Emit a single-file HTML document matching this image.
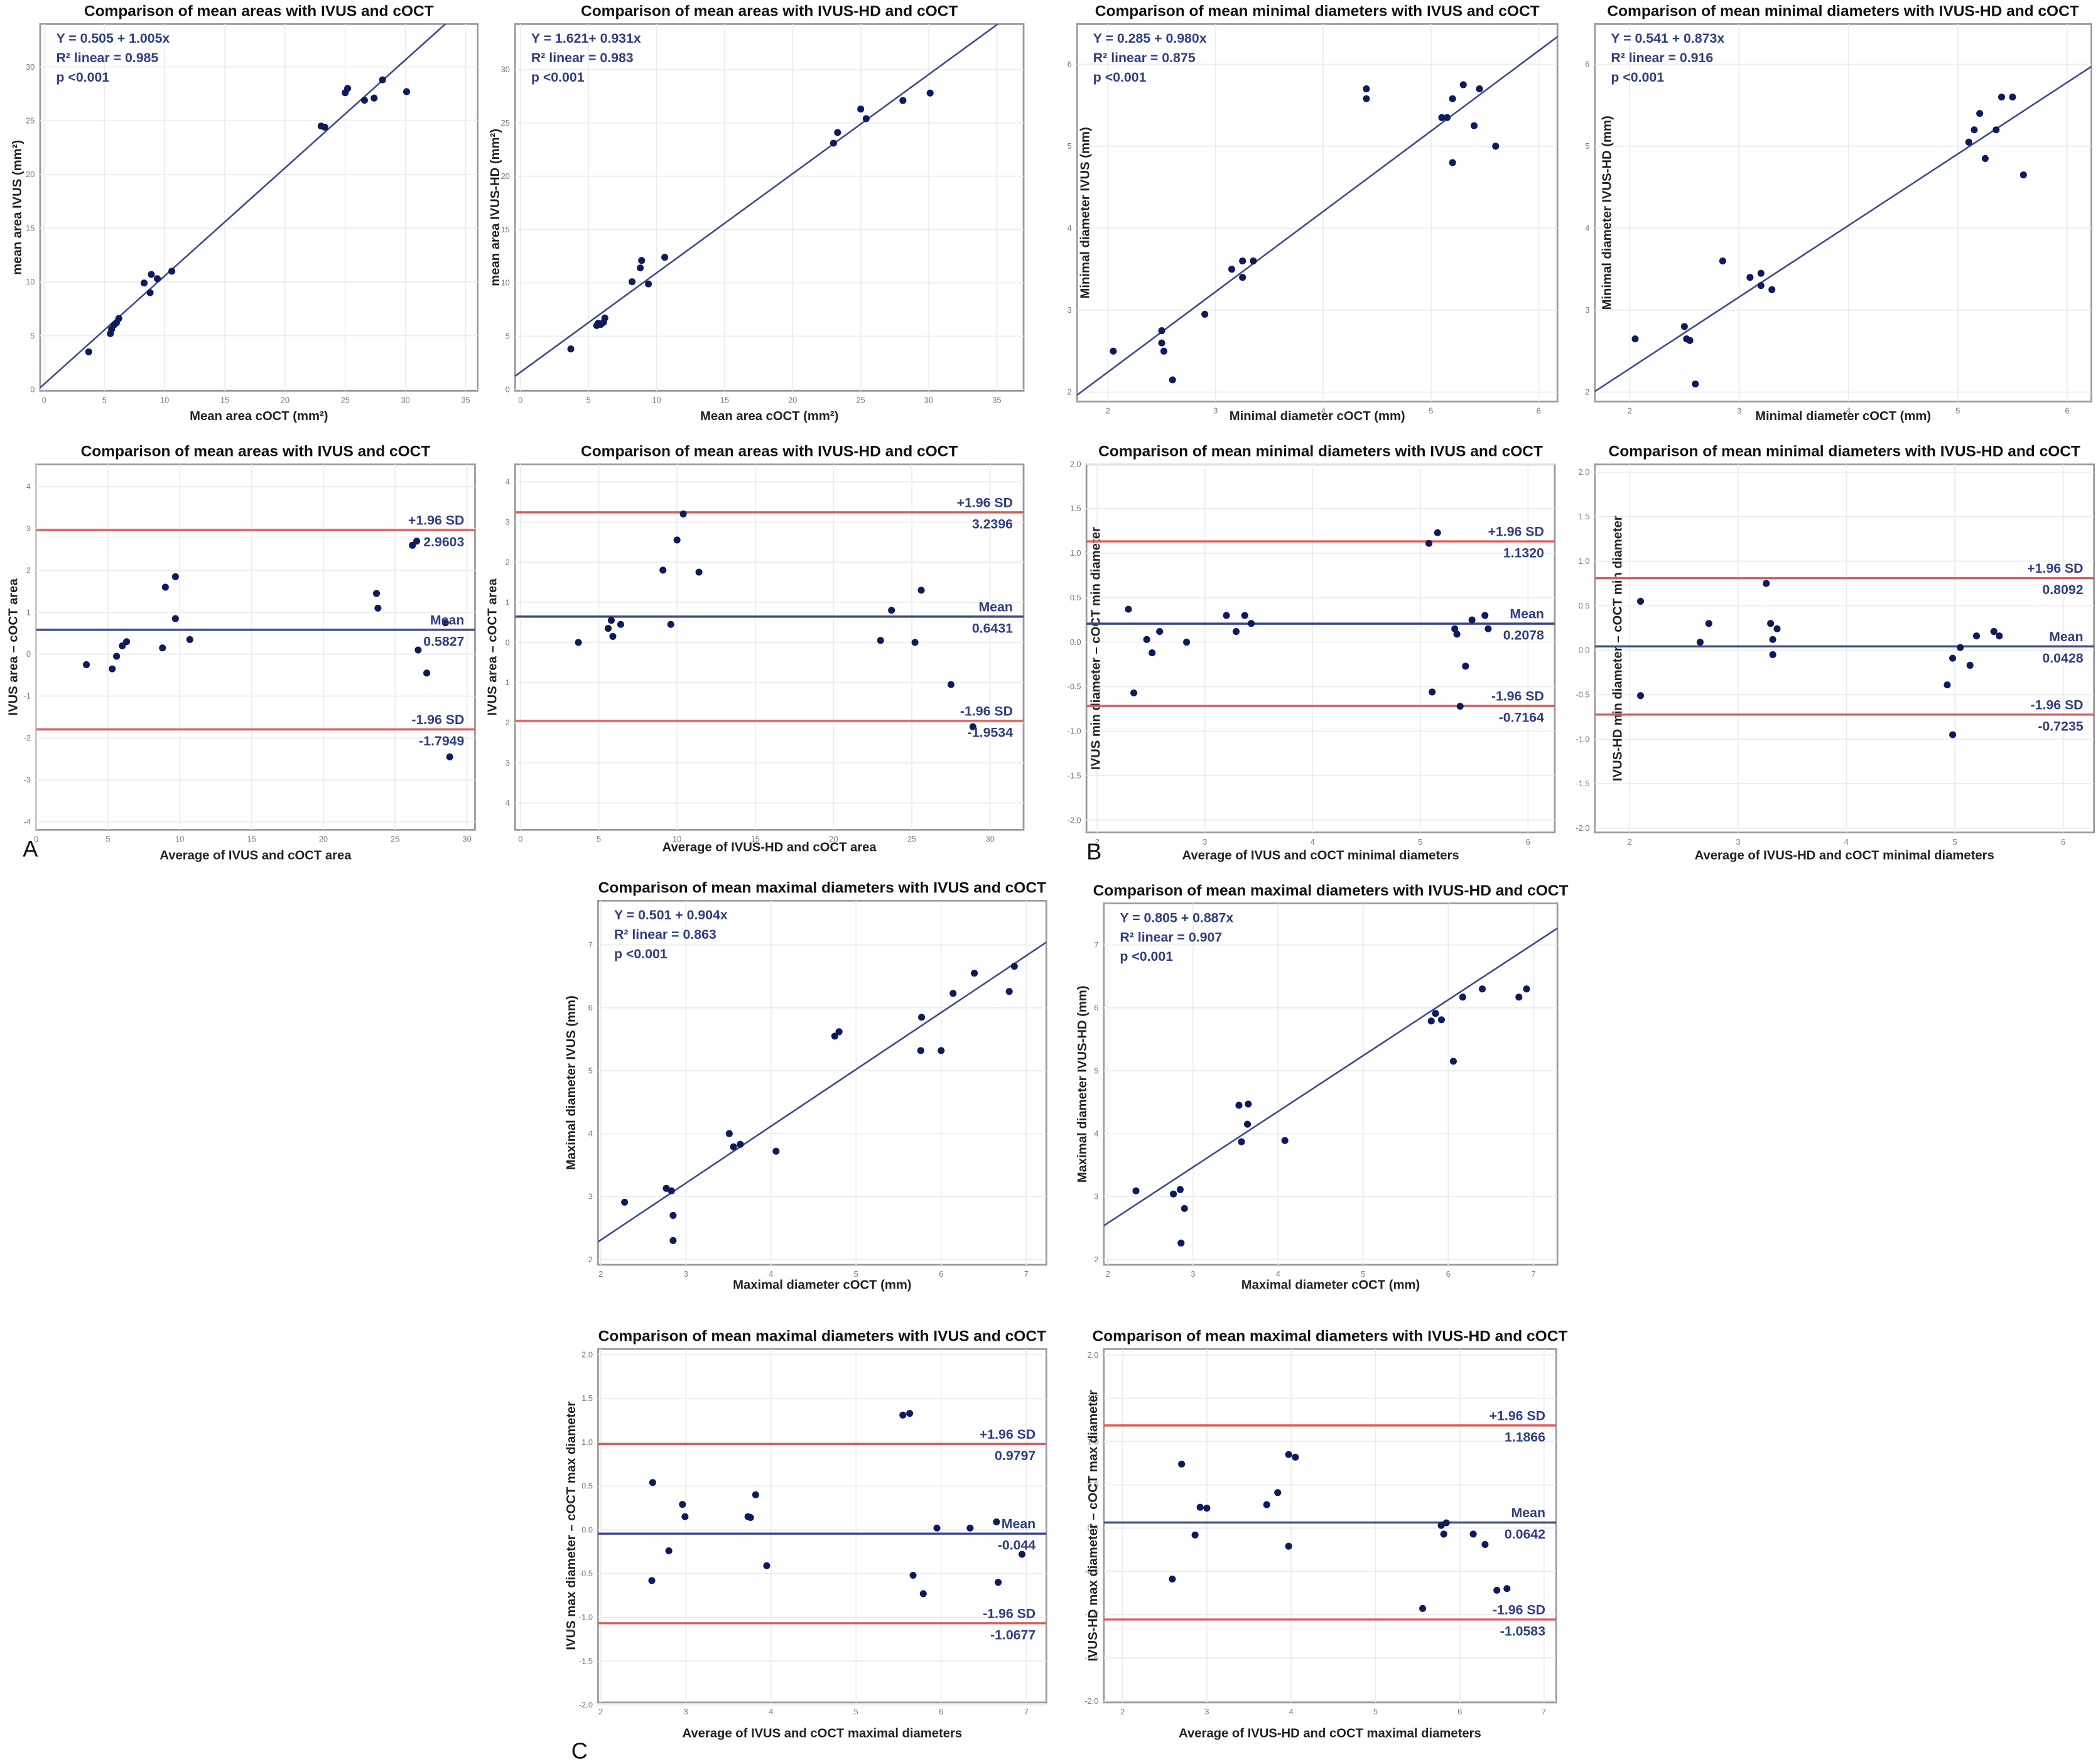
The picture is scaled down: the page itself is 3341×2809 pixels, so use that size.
<!DOCTYPE html>
<html><head><meta charset="utf-8"><style>
html,body{margin:0;padding:0;background:#fff;}
svg{display:block;font-family:"Liberation Sans",sans-serif;}
</style></head><body>
<svg id="fig" width="3341" height="2809" viewBox="0 0 1568 1318" preserveAspectRatio="none" xmlns="http://www.w3.org/2000/svg"></svg>
<script>
// ---- data ----
const p1x=[3.7,5.5,5.6,5.8,6.0,6.2,8.3,8.8,8.9,9.4,10.6,23.0,23.3,25.0,25.2,26.6,27.4,28.1,30.1];
const p1y=[3.5,5.2,5.6,6.0,6.2,6.6,9.9,9.0,10.7,10.3,11.0,24.5,24.4,27.6,28.0,26.9,27.1,28.8,27.7];
const p2x=[3.7,5.6,5.7,5.9,6.1,6.2,8.2,8.8,8.9,9.4,10.6,23.0,23.3,25.0,25.4,28.1,30.1];
const p2y=[3.8,6.0,6.2,6.1,6.3,6.7,10.1,11.4,12.1,9.9,12.4,23.1,24.1,26.3,25.4,27.1,27.8];
const p3x=[2.05,2.5,2.5,2.52,2.6,2.9,3.15,3.25,3.25,3.35,4.4,4.4,5.1,5.15,5.2,5.2,5.3,5.4,5.45,5.6];
const p3y=[2.5,2.75,2.6,2.5,2.15,2.95,3.5,3.6,3.4,3.6,5.7,5.58,5.35,5.35,5.58,4.8,5.75,5.25,5.7,5.0];
const p4x=[2.05,2.5,2.52,2.55,2.6,2.85,3.1,3.2,3.2,3.3,5.1,5.15,5.2,5.25,5.35,5.4,5.5,5.6];
const p4y=[2.65,2.8,2.65,2.63,2.1,3.6,3.4,3.45,3.3,3.25,5.05,5.2,5.4,4.85,5.2,5.6,5.6,4.65];
const p5x=[3.5,5.3,5.6,6.0,6.3,8.8,9.0,9.7,9.7,10.7,23.7,23.8,26.2,26.5,26.6,27.2,28.5,28.8];
const p5y=[-0.25,-0.35,-0.05,0.2,0.3,0.15,1.6,1.85,0.85,0.35,1.45,1.1,2.6,2.7,0.1,-0.45,0.75,-2.45];
const p6x=[3.7,5.6,5.8,5.9,6.4,9.1,9.6,10.0,10.4,11.4,23.0,23.7,25.2,25.6,27.5,28.9];
const p6y=[0.0,0.35,0.55,0.15,0.45,1.8,0.45,2.55,3.2,1.75,0.05,0.8,0.0,1.3,-1.05,-2.1];
const p7x=[2.29,2.34,2.46,2.51,2.58,2.83,3.2,3.29,3.37,3.43,5.08,5.16,5.11,5.32,5.34,5.37,5.42,5.48,5.6,5.63];
const p7y=[0.37,-0.57,0.03,-0.12,0.12,0.0,0.3,0.12,0.3,0.21,1.11,1.23,-0.56,0.15,0.09,-0.72,-0.27,0.25,0.3,0.15];
const p8x=[2.1,2.1,2.65,2.73,3.26,3.3,3.32,3.32,3.36,4.93,4.98,5.05,5.14,5.2,5.36,5.41,4.98];
const p8y=[0.55,-0.51,0.09,0.3,0.75,0.3,0.12,-0.05,0.24,-0.39,-0.09,0.03,-0.17,0.16,0.21,0.16,-0.95];
const p9x=[2.28,2.77,2.83,2.85,2.85,3.51,3.56,3.64,4.06,4.75,4.8,5.77,5.76,6.0,6.14,6.39,6.8,6.86];
const p9y=[2.91,3.13,3.09,2.7,2.3,4.0,3.79,3.83,3.72,5.55,5.62,5.85,5.32,5.32,6.23,6.55,6.26,6.66];
const p10x=[2.33,2.77,2.85,2.9,2.86,3.54,3.57,3.64,3.65,4.08,5.8,5.85,5.92,6.06,6.17,6.4,6.83,6.92];
const p10y=[3.09,3.04,3.11,2.81,2.26,4.45,3.87,4.15,4.47,3.89,5.79,5.91,5.81,5.15,6.17,6.3,6.17,6.3];
const p11x=[2.61,2.6,2.8,2.96,2.99,3.73,3.76,3.82,3.95,5.55,5.63,5.67,5.79,5.95,6.34,6.65,6.67,6.95];
const p11y=[0.54,-0.58,-0.24,0.29,0.15,0.15,0.14,0.4,-0.41,1.31,1.33,-0.52,-0.73,0.02,0.02,0.09,-0.6,-0.28];
const p12x=[2.59,2.7,2.86,2.92,3.0,3.71,3.84,3.97,3.97,4.05,5.56,5.78,5.81,5.84,6.16,6.3,6.44,6.56];
const p12y=[-0.59,0.74,-0.08,0.24,0.23,0.27,0.41,0.85,-0.21,0.82,-0.93,0.03,-0.07,0.06,-0.07,-0.19,-0.72,-0.7];
const fit1=[0.505,1.005], fit2=[1.621,0.931], fit3=[0.285,0.980], fit4=[0.541,0.873], fit9=[0.501,0.904], fit10=[0.805,0.887];
const ba5=[2.9603,0.5827,-1.7949], ba6=[3.2396,0.6431,-1.9534], ba7=[1.1320,0.2078,-0.7164], ba8=[0.8092,0.0428,-0.7235], ba11=[0.9797,-0.044,-1.0677], ba12=[1.1866,0.0642,-1.0583];
const baLab5=["2.9603","0.5827","-1.7949"], baLab6=["3.2396","0.6431","-1.9534"], baLab7=["1.1320","0.2078","-0.7164"], baLab8=["0.8092","0.0428","-0.7235"], baLab11=["0.9797","-0.044","-1.0677"], baLab12=["1.1866","0.0642","-1.0583"];
const eq1=["Y = 0.505 + 1.005x","R² linear = 0.985","p <0.001"];
const eq2=["Y = 1.621+ 0.931x","R² linear = 0.983","p <0.001"];
const eq3=["Y = 0.285 + 0.980x","R² linear = 0.875","p <0.001"];
const eq4=["Y = 0.541 + 0.873x","R² linear = 0.916","p <0.001"];
const eq9=["Y = 0.501 + 0.904x","R² linear = 0.863","p <0.001"];
const eq10=["Y = 0.805 + 0.887x","R² linear = 0.907","p <0.001"];
const areaTicksX=[0,5,10,15,20,25,30,35], areaTicksY=[0,5,10,15,20,25,30];
const baAreaTicksX=[0,5,10,15,20,25,30], baAreaTicksY=[-4,-3,-2,-1,0,1,2,3,4];
const diamTicks=[2,3,4,5,6], maxTicks=[2,3,4,5,6,7];
const baDiamTicksY=[-2,-1.5,-1,-0.5,0,0.5,1,1.5,2];

const NS="http://www.w3.org/2000/svg";
const svg=document.getElementById('fig');
function el(tag,attrs,parent,text){const e=document.createElementNS(NS,tag);for(const k in attrs)e.setAttribute(k,attrs[k]);if(text!==undefined)e.textContent=text;(parent||svg).appendChild(e);return e;}
let clipId=0;
function panel(c){
  const g=el('g',{});
  
  
  const [L,T,R,B]=c.box;
  const sx=v=>c.xp[0]+(v-c.xd[0])*(c.xp[1]-c.xp[0])/(c.xd[1]-c.xd[0]);
  const sy=v=>c.yp[0]+(v-c.yd[0])*(c.yp[1]-c.yp[0])/(c.yd[1]-c.yd[0]);
  const t=el('text',{x:(L+R)/2,y:T-6,'text-anchor':'middle','font-size':11.5,'font-weight':'bold',fill:'#111'},g,c.title);
  
  el('rect',{x:L,y:T,width:R-L,height:B-T,fill:'#fff',stroke:'#9a9a9a','stroke-width':1.3},g);
  c.xt.forEach(v=>{const x=sx(v);
    const gl=el('line',{x1:x,x2:x,y1:T,y2:B,stroke:'#ececec','stroke-width':0.8},g);
    const tl=el('text',{x:x,y:B+9,'text-anchor':'middle','font-size':6,fill:'#777'},g,String(v));
    });
  c.yt.forEach(v=>{const y=sy(v);
    el('line',{x1:L,x2:R,y1:y,y2:y,stroke:'#ececec','stroke-width':0.8},g);
    const tl=el('text',{x:L-4,y:y+2,'text-anchor':'end','font-size':6,fill:'#777'},g,c.ytf?c.ytf(v):String(v));
    });
  const xl=el('text',{x:(L+R)/2,y:c.xly||B+22,'text-anchor':'middle','font-size':9.5,'font-weight':'bold',fill:'#222'},g,c.xl);
  
  const yx=c.ylx||L-18;
  const yl=el('text',{x:yx,y:(T+B)/2,'text-anchor':'middle','font-size':9.5,'font-weight':'bold',fill:'#222',transform:`rotate(-90 ${yx} ${(T+B)/2})`},g,c.yl);
  
  clipId++;
  const cp=el('clipPath',{id:'c'+clipId},g);el('rect',{x:L,y:T,width:R-L,height:B-T},cp);
  const inner=el('g',{'clip-path':`url(#c${clipId})`},g);
  if(c.fit){
    const x0=c.xd[0]+(L-c.xp[0])*(c.xd[1]-c.xd[0])/(c.xp[1]-c.xp[0])-1;
    const x1=c.xd[0]+(R-c.xp[0])*(c.xd[1]-c.xd[0])/(c.xp[1]-c.xp[0])+1;
    const fl=el('line',{x1:sx(x0),y1:sy(c.fit[0]+c.fit[1]*x0),x2:sx(x1),y2:sy(c.fit[0]+c.fit[1]*x1),stroke:'#3b4a8c','stroke-width':1.2},inner);
    
    c.eq.forEach((s,i)=>{const e=el('text',{x:L+12,y:T+14+i*14.5,'font-size':10,'font-weight':'bold',fill:'#2f3f7f'},g,s);
      });
  }
  if(c.ba){
    const names=['upper-limit-line','mean-line','lower-limit-line'];
    const heads=['+1.96 SD','Mean','-1.96 SD'];
    c.ba.forEach((v,i)=>{const y=sy(v);
      const ln=el('line',{x1:L,x2:R,y1:y,y2:y,stroke:i==1?'#3b4a8c':'#d9605e','stroke-width':1.6},inner);
      
      const h=el('text',{x:R-8,y:y-4,'text-anchor':'end','font-size':10,'font-weight':'bold',fill:'#2f3f7f'},g,heads[i]);
      
      const vv=el('text',{x:R-8,y:y+12,'text-anchor':'end','font-size':10,'font-weight':'bold',fill:'#2f3f7f'},g,c.baLab[i]);
      });
  }
  c.xs.forEach((v,i)=>{const p=el('circle',{cx:sx(v),cy:sy(c.ys[i]),r:2.6,fill:'#0d1a5c'},inner);
    });
}
const fmt1=v=>v.toFixed(1);
panel({name:'scatter-area-ivus',box:[30,18,357,292],xd:[0,35],xp:[33,348],yd:[0,30],yp:[291,50],xt:areaTicksX,yt:areaTicksY,title:'Comparison of mean areas with IVUS and cOCT',xl:'Mean area cOCT (mm²)',yl:'mean area IVUS (mm²)',xs:p1x,ys:p1y,fit:fit1,eq:eq1,xly:314,ylx:16});
panel({name:'scatter-area-ivushd',box:[385,18,765,292],xd:[0,35],xp:[389,745],yd:[0,30],yp:[291,52],xt:areaTicksX,yt:areaTicksY,title:'Comparison of mean areas with IVUS-HD and cOCT',xl:'Mean area cOCT (mm²)',yl:'mean area IVUS-HD (mm²)',xs:p2x,ys:p2y,fit:fit2,eq:eq2,xly:314,ylx:373});
panel({name:'scatter-min-ivus',box:[805,18,1164,300],xd:[2,6],xp:[828,1150],yd:[2,6],yp:[293,48],xt:diamTicks,yt:diamTicks,title:'Comparison of mean minimal diameters with IVUS and cOCT',xl:'Minimal diameter cOCT (mm)',yl:'Minimal diameter IVUS (mm)',xs:p3x,ys:p3y,fit:fit3,eq:eq3,xly:314,ylx:814});
panel({name:'scatter-min-ivushd',box:[1192,18,1563,300],xd:[2,6],xp:[1218,1545],yd:[2,6],yp:[293,48],xt:diamTicks,yt:diamTicks,title:'Comparison of mean minimal diameters with IVUS-HD and cOCT',xl:'Minimal diameter cOCT (mm)',yl:'Minimal diameter IVUS-HD (mm)',xs:p4x,ys:p4y,fit:fit4,eq:eq4,xly:314,ylx:1204});
panel({name:'bland-altman-area-ivus',box:[27,347,355,620],xd:[0,30],xp:[27,349],yd:[0,1],yp:[488.8,457.5],xt:baAreaTicksX,yt:baAreaTicksY,title:'Comparison of mean areas with IVUS and cOCT',xl:'Average of IVUS and cOCT area',yl:'IVUS area – cOCT area',xs:p5x,ys:p5y,ba:ba5,baLab:baLab5,xly:642,ylx:13});
panel({name:'bland-altman-area-ivushd',box:[385,347,765,620],xd:[0,30],xp:[389,740],yd:[0,1],yp:[480,450],xt:baAreaTicksX,yt:baAreaTicksY,ytf:v=>String(Math.abs(v)),title:'Comparison of mean areas with IVUS-HD and cOCT',xl:'Average of IVUS-HD and cOCT area',yl:'IVUS area – cOCT area',xs:p6x,ys:p6y,ba:ba6,baLab:baLab6,xly:636,ylx:371});
panel({name:'bland-altman-min-ivus',box:[812,347,1162,622],xd:[2,6],xp:[820,1142],yd:[0,1],yp:[479.8,413.3],xt:diamTicks,yt:baDiamTicksY,ytf:fmt1,title:'Comparison of mean minimal diameters with IVUS and cOCT',xl:'Average of IVUS and cOCT minimal diameters',yl:'IVUS min diameter – cOCT min diameter',xs:p7x,ys:p7y,ba:ba7,baLab:baLab7,xly:642,ylx:822});
panel({name:'bland-altman-min-ivushd',box:[1192,347,1565,622],xd:[2,6],xp:[1218,1542],yd:[0,1],yp:[485.8,419.3],xt:diamTicks,yt:baDiamTicksY,ytf:fmt1,title:'Comparison of mean minimal diameters with IVUS-HD and cOCT',xl:'Average of IVUS-HD and cOCT minimal diameters',yl:'IVUS-HD min diameter – cOCT min diameter',xs:p8x,ys:p8y,ba:ba8,baLab:baLab8,xly:642,ylx:1212});
panel({name:'scatter-max-ivus',box:[447,673,782,945],xd:[2,7],xp:[449,767],yd:[2,7],yp:[941,706],xt:maxTicks,yt:maxTicks,title:'Comparison of mean maximal diameters with IVUS and cOCT',xl:'Maximal diameter cOCT (mm)',yl:'Maximal diameter IVUS (mm)',xs:p9x,ys:p9y,fit:fit9,eq:eq9,xly:963,ylx:430});
panel({name:'scatter-max-ivushd',box:[825,675,1164,945],xd:[2,7],xp:[828,1146],yd:[2,7],yp:[941,706],xt:maxTicks,yt:maxTicks,title:'Comparison of mean maximal diameters with IVUS-HD and cOCT',xl:'Maximal diameter cOCT (mm)',yl:'Maximal diameter IVUS-HD (mm)',xs:p10x,ys:p10y,fit:fit10,eq:eq10,xly:963,ylx:812});
panel({name:'bland-altman-max-ivus',box:[447,1008,782,1272],xd:[2,7],xp:[449,767],yd:[0,1],yp:[1143,1077.6],xt:maxTicks,yt:baDiamTicksY,ytf:fmt1,title:'Comparison of mean maximal diameters with IVUS and cOCT',xl:'Average of IVUS and cOCT maximal diameters',yl:'IVUS max diameter – cOCT max diameter',xs:p11x,ys:p11y,ba:ba11,baLab:baLab11,xly:1298,ylx:430});
panel({name:'bland-altman-max-ivushd',box:[825,1008,1163,1272],xd:[2,7],xp:[839,1154],yd:[0,1],yp:[1141.7,1077.1],xt:maxTicks,yt:baDiamTicksY,ytf:fmt1,title:'Comparison of mean maximal diameters with IVUS-HD and cOCT',xl:'Average of IVUS-HD and cOCT maximal diameters',yl:'IVUS-HD max diameter – cOCT max diameter',xs:p12x,ys:p12y,ba:ba12,baLab:baLab12,xly:1298,ylx:820});
[['A',17,640,'panel-letter-a'],['B',812,642,'panel-letter-b'],['C',427,1314,'panel-letter-c']].forEach(a=>{
  const e=el('text',{x:a[1],y:a[2],'font-size':17,fill:'#111'},svg,a[0]);
  
  
});
</script>
</body></html>
